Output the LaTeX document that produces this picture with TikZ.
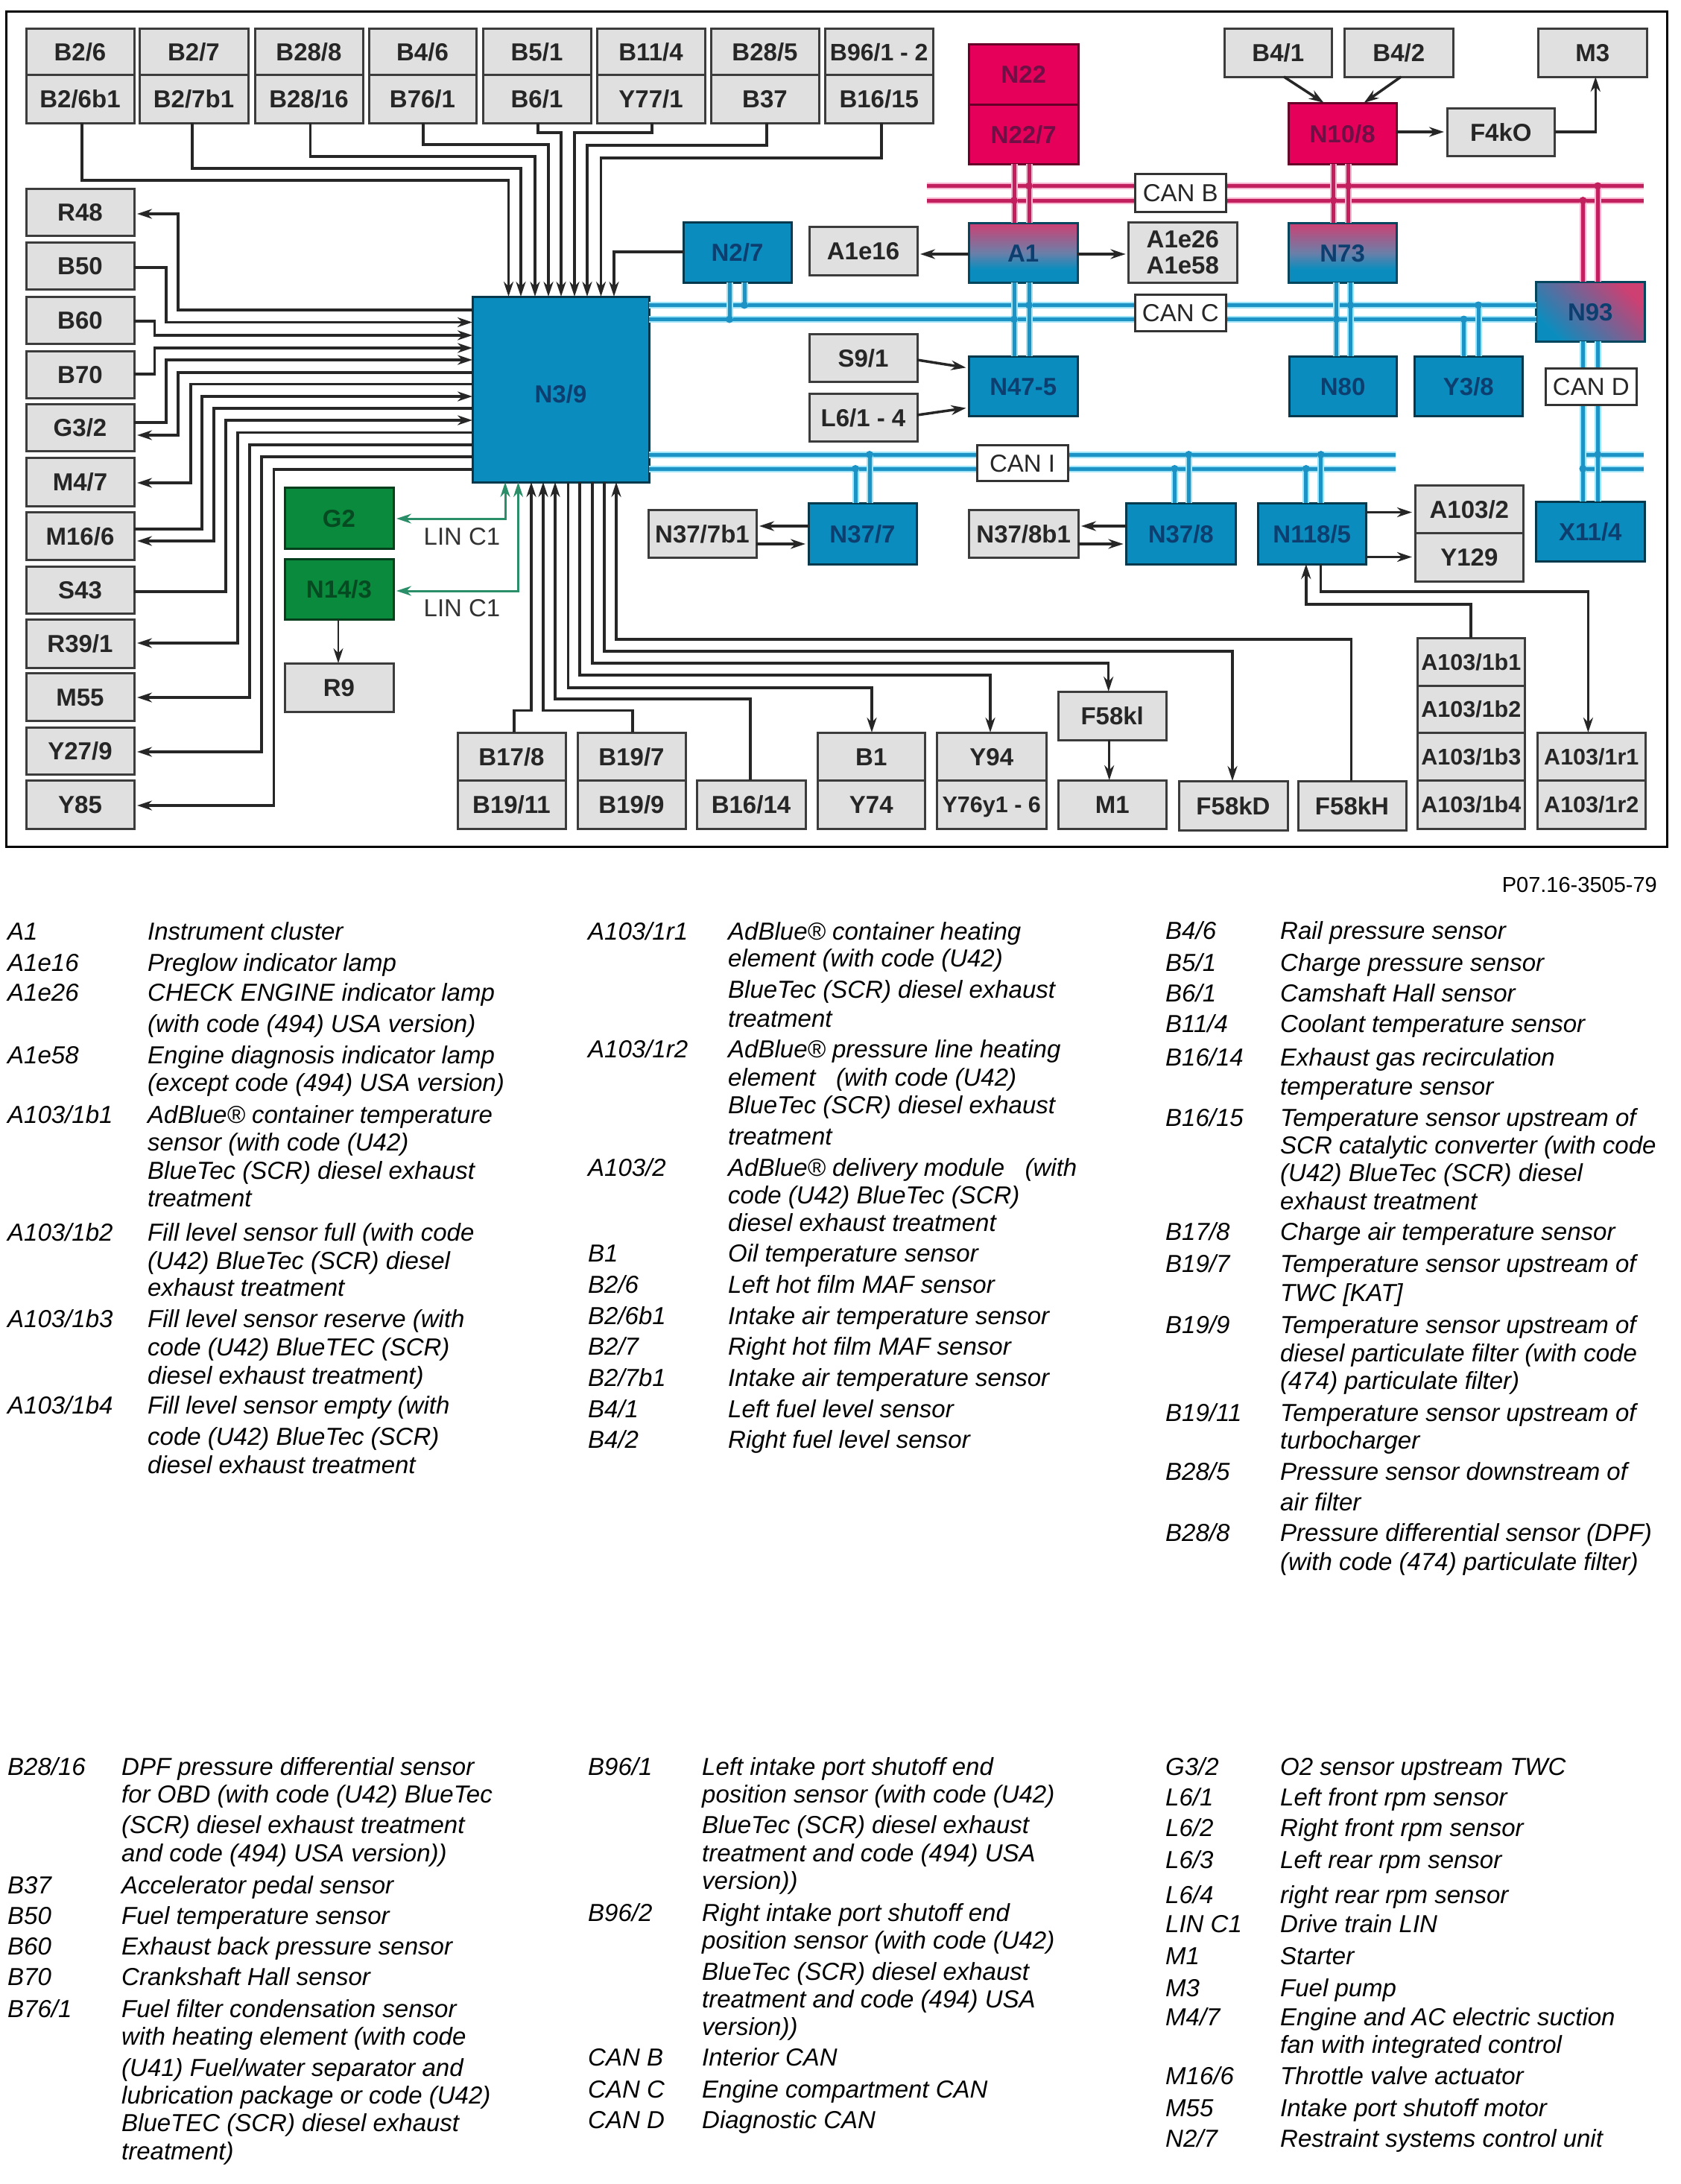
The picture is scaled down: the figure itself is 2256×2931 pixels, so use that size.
\documentclass[tikz,border=0pt]{standalone}
\usepackage{fontspec}
\setmainfont{Liberation Sans}
\usetikzlibrary{arrows.meta,calc}
\definecolor{gboxc}{HTML}{E0E0E0}
\definecolor{edgec}{HTML}{3C3C3C}
\definecolor{wirec}{HTML}{262626}
\definecolor{bluec}{HTML}{0A8DBE}
\definecolor{pinkc}{HTML}{E6005A}
\definecolor{mauvec}{HTML}{CE3F72}
\definecolor{midc}{HTML}{6C7FA8}
\definecolor{greenc}{HTML}{0A8A3C}
\definecolor{linc}{HTML}{2A8F68}
\definecolor{canbc}{HTML}{C21F5F}
\definecolor{canbh}{HTML}{F7B4CE}
\definecolor{cancc}{HTML}{1C93C4}
\definecolor{canch}{HTML}{9FE4F7}
\definecolor{navyt}{HTML}{0C3F70}
\definecolor{pinkt}{HTML}{6E0F45}
\definecolor{greent}{HTML}{064A22}
\pgfdeclareverticalshading{mixs}{100bp}{color(0bp)=(bluec); color(25bp)=(bluec); color(36bp)=(bluec); color(50bp)=(midc); color(75bp)=(mauvec); color(100bp)=(mauvec)}
\newcounter{lgc}
\newcommand{\bx}[7][gbox]{%
  \pgfmathsetmacro\bxcx{(#3+#5)/2}%
  \pgfmathsetmacro\bxcy{(#4+#6)/2}%
  \pgfmathsetmacro\bxw{#5-#3}%
  \pgfmathsetmacro\bxh{#6-#4}%
  \node[#1,minimum width=\bxw pt,minimum height=\bxh pt] (#2) at (\bxcx,\bxcy) {#7};}
\newcommand{\lgt}[3]{\stepcounter{lgc}\node[legend] (lg\thelgc) at (#1,#2) {#3};}
\tikzset{
  x=1pt,y=-1pt,
  basebox/.style={draw=edgec,line width=3pt,inner sep=0pt,outer sep=0pt,align=center,
    text height=24pt,text depth=0pt,
    font=\fontsize{33}{38}\selectfont\bfseries,text=black!85},
  natural/.style={text height=,text depth=},
  gbox/.style={basebox,fill=gboxc},
  gsmall/.style={gbox,text height=22pt,font=\fontsize{30.5}{36}\selectfont\bfseries},
  bluebox/.style={basebox,draw=black!60!bluec,fill=bluec,text=navyt},
  pinkbox/.style={basebox,draw=black!55!pinkc,fill=pinkc,text=pinkt},
  greenbox/.style={basebox,draw=black!55!greenc,fill=greenc,text=greent},
  mixbox/.style={basebox,draw=black!50!bluec,shade,shading=mixs,text=navyt},
  diagbox/.style={basebox,draw=black!50!bluec,top color=mauvec,bottom color=bluec,shading angle=-45,text=navyt},
  canbox/.style={basebox,fill=white,draw=black!80,font=\fontsize{33}{38}\selectfont},
  sig/.style={draw=wirec,line width=3.5pt},
  thin sig/.style={draw=wirec,line width=2.5pt},
  tip/.style={-{Stealth[length=20pt,width=13pt]}},
  lin/.style={draw=linc,line width=3pt},
  canb/.style={draw=canbc,line width=5pt,preaction={draw=canbh,line width=9pt}},
  canc/.style={draw=cancc,line width=5pt,preaction={draw=canch,line width=9pt}},
  legend/.style={anchor=base west,inner sep=0pt,font=\fontsize{33}{38}\selectfont\itshape,text=black},
  plain label/.style={inner sep=0pt,font=\fontsize{33}{38}\selectfont,text=black!80},
  short/.style={shorten >=4pt},
}
\begin{document}
\begin{tikzpicture}
\useasboundingbox (0,0) rectangle (2256,2931);
\fill[white] (0,0) rectangle (2256,2931);
\draw[black,line width=3pt] (8.5,15) rectangle (2237.5,1136);
\coordinate (cbl) at (1243.6,249.5);
\coordinate (cbr) at (2206,249.5);
\coordinate (cbl2) at (1243.6,269);
\coordinate (cbr2) at (2206,269);
\coordinate (cil) at (1873,610);
\coordinate (cil2) at (1873,629);
\coordinate (dl) at (2124.4,610);
\coordinate (dr) at (2206,610);
\coordinate (dl2) at (2124.4,629);
\coordinate (dr2) at (2206,629);
% top row
\bx{b26}{35}{38}{180}{100}{B2/6}
\bx{b26b1}{35}{100}{180}{165}{B2/6b1}
\bx{b27}{187}{38}{333}{100}{B2/7}
\bx{b27b1}{187}{100}{333}{165}{B2/7b1}
\bx{b288}{342}{38}{487}{100}{B28/8}
\bx{b2816}{342}{100}{487}{165}{B28/16}
\bx{b46}{495}{38}{639}{100}{B4/6}
\bx{b761}{495}{100}{639}{165}{B76/1}
\bx{b51}{648}{38}{793}{100}{B5/1}
\bx{b61}{648}{100}{793}{165}{B6/1}
\bx{b114}{801}{38}{946}{100}{B11/4}
\bx{y771}{801}{100}{946}{165}{Y77/1}
\bx{b285}{954}{38}{1099}{100}{B28/5}
\bx{b37}{954}{100}{1099}{165}{B37}
\bx[gbox,font=\fontsize{32}{36}\selectfont\bfseries]{b96}{1107}{38}{1252.5}{100}{B96/1 - 2}
\bx{b1615}{1107}{100}{1252.5}{165}{B16/15}
% left column
\bx{r48}{35}{253}{180}{316}{R48}
\bx{b50}{35}{325}{180}{388}{B50}
\bx{b60}{35}{398}{180}{461}{B60}
\bx{b70}{35}{471}{180}{534}{B70}
\bx{g32}{35}{542}{180}{605}{G3/2}
\bx{m47}{35}{614}{180}{679}{M4/7}
\bx{m166}{35}{687}{180}{751}{M16/6}
\bx{s43}{35}{760}{180}{823}{S43}
\bx{r391}{35}{831}{180}{896}{R39/1}
\bx{m55}{35}{903}{180}{967}{M55}
\bx{y279}{35}{976}{180}{1039}{Y27/9}
\bx{y85}{35}{1047}{180}{1112}{Y85}
% control units
\bx[bluebox,text height=37pt,text depth=2pt]{n39}{634}{398}{871}{647}{N3/9}
\bx[bluebox]{n27}{917}{298}{1062}{379}{N2/7}
\bx{a1e16}{1086}{304}{1231}{369}{A1e16}
\bx{s91}{1086}{448}{1231}{512}{S9/1}
\bx{l61}{1086}{528}{1231}{592}{L6/1 - 4}
\bx[pinkbox]{n22}{1300.4}{59}{1447}{140}{N22}
\bx[pinkbox]{n227}{1300.4}{140}{1447}{220}{N22/7}
\bx[mixbox]{a1}{1300.4}{299}{1446}{379}{A1}
\bx[gbox,natural]{a1e26}{1514.6}{298}{1660}{379}{A1e26\\[-3pt]A1e58}
\bx[mixbox]{n73}{1729}{299}{1874.3}{379}{N73}
\bx[pinkbox]{n108}{1729}{138}{1874.3}{220}{N10/8}
\bx{b41}{1643}{38}{1787.6}{103}{B4/1}
\bx{b42}{1804.6}{38}{1950}{103}{B4/2}
\bx{m3}{2064.6}{38}{2210}{103}{M3}
\bx{f4ko}{1942}{145}{2086.5}{209}{F4kO}
\bx[diagbox]{n93}{2061.6}{378}{2207}{458}{N93}
\bx[bluebox]{n475}{1300.4}{478}{1446}{558}{N47-5}
\bx[bluebox]{n80}{1730}{478}{1874.3}{558}{N80}
\bx[bluebox]{y38}{1898}{478}{2043.7}{558}{Y3/8}
\bx[bluebox]{x114}{2061.6}{673}{2207}{753}{X11/4}
\bx{n377b1}{870}{684}{1015}{748}{N37/7b1}
\bx[bluebox]{n377}{1085}{675}{1230}{757}{N37/7}
\bx{n378b1}{1300.4}{684}{1447}{748}{N37/8b1}
\bx[bluebox]{n378}{1511.6}{675}{1658}{757}{N37/8}
\bx[bluebox]{n1185}{1688}{675}{1833.5}{757}{N118/5}
\bx{a1032}{1899}{651}{2044.7}{715}{A103/2}
\bx{y129}{1899}{715}{2044.7}{780}{Y129}
\bx[gsmall]{a1b1}{1902}{856}{2046.7}{920}{A103/1b1}
\bx[gsmall]{a1b2}{1902}{920}{2046.7}{983}{A103/1b2}
\bx[gsmall]{a1b3}{1902}{983}{2046.7}{1047}{A103/1b3}
\bx[gsmall]{a1b4}{1902}{1047}{2046.7}{1112}{A103/1b4}
\bx[gsmall]{a1r1}{2063.6}{983}{2208}{1047}{A103/1r1}
\bx[gsmall]{a1r2}{2063.6}{1047}{2208}{1112}{A103/1r2}
\bx{f58kh}{1742}{1048}{1887}{1114}{F58kH}
\bx{f58kd}{1582}{1048}{1728}{1114}{F58kD}
\bx{m1}{1420}{1047}{1565.4}{1112}{M1}
\bx{f58kl}{1420}{928}{1565.4}{993}{F58kl}
\bx{y94}{1257.5}{983}{1404}{1047}{Y94}
\bx[gsmall]{y76}{1257.5}{1047}{1404}{1112}{Y76y1 - 6}
\bx{b1}{1097}{983}{1241.6}{1047}{B1}
\bx{y74}{1097}{1047}{1241.6}{1112}{Y74}
\bx{b1614}{935}{1047}{1081}{1112}{B16/14}
\bx{b197}{775}{983}{920}{1047}{B19/7}
\bx{b199}{775}{1047}{920}{1112}{B19/9}
\bx{b178}{614}{983}{759}{1047}{B17/8}
\bx{b1911}{614}{1047}{759}{1112}{B19/11}
\bx{r9}{382}{890}{528}{955}{R9}
\bx[greenbox]{g2}{382}{654}{528}{736}{G2}
\bx[greenbox]{n143}{382}{750}{528}{831}{N14/3}
% CAN B
\draw[canb] (cbl) -- (cbr);
\draw[canb] (cbl2) -- (cbr2);
\draw[canb] (1361,0 |- n227.south) -- (1361,0 |- a1.north);
\draw[canb] (1381,0 |- n227.south) -- (1381,0 |- a1.north);
\draw[canb] (1789.6,0 |- n108.south) -- (1789.6,0 |- n73.north);
\draw[canb] (1809.5,0 |- n108.south) -- (1809.5,0 |- n73.north);
\draw[canb] (2124.4,0 |- n93.north) -- (2124.4,269);
\draw[canb] (2144.3,0 |- n93.north) -- (2144.3,249.5);
\foreach \p in {(1381,249.5),(1361,269),(1809.5,249.5),(1789.6,269),(2144.3,249.5),(2124.4,269)} {\fill[canbc] \p circle (5);}
% CAN C
\draw[canc] (n39.east |- 0,409.5) -- (n93.west |- 0,409.5);
\draw[canc] (n39.east |- 0,428.5) -- (n93.west |- 0,428.5);
\draw[canc] (979,0 |- n27.south) -- (979,428.5);
\draw[canc] (999,0 |- n27.south) -- (999,409.5);
\draw[canc] (1361,0 |- a1.south) -- (1361,0 |- n475.north);
\draw[canc] (1381,0 |- a1.south) -- (1381,0 |- n475.north);
\draw[canc] (1793.6,0 |- n73.south) -- (1793.6,0 |- n80.north);
\draw[canc] (1812.5,0 |- n73.south) -- (1812.5,0 |- n80.north);
\draw[canc] (1964.5,0 |- y38.north) -- (1964.5,428.5);
\draw[canc] (1984,0 |- y38.north) -- (1984,409.5);
\foreach \p in {(999,409.5),(979,428.5),(1381,409.5),(1361,428.5),(1812.5,409.5),(1793.6,428.5),(1984,409.5),(1964.5,428.5)} {\fill[cancc] \p circle (5);}
% CAN D and CAN I
\draw[canc] (dl) -- (dr);
\draw[canc] (dl2) -- (dr2);
\draw[canc] (2124.4,0 |- n93.south) -- (2124.4,0 |- x114.north);
\draw[canc] (2144.3,0 |- n93.south) -- (2144.3,0 |- x114.north);
\draw[canc] (n39.east |- 0,610) -- (cil);
\draw[canc] (n39.east |- 0,629) -- (cil2);
\draw[canc] (1148,0 |- n377.north) -- (1148,629);
\draw[canc] (1167,0 |- n377.north) -- (1167,610);
\draw[canc] (1576.4,0 |- n378.north) -- (1576.4,629);
\draw[canc] (1595.3,0 |- n378.north) -- (1595.3,610);
\draw[canc] (1752.8,0 |- n1185.north) -- (1752.8,629);
\draw[canc] (1772.7,0 |- n1185.north) -- (1772.7,610);
\foreach \p in {(1167,610),(1148,629),(1595.3,610),(1576.4,629),(1772.7,610),(1752.8,629),(2144.3,610),(2124.4,629)} {\fill[cancc] \p circle (5);}
% CAN labels
\bx[canbox]{canB}{1523.6}{233}{1645}{284}{CAN B}
\bx[canbox]{canC}{1523.6}{395}{1645}{444}{CAN C}
\bx[canbox]{canD}{2074.6}{494}{2196}{543}{CAN D}
\bx[canbox]{canI}{1311}{597}{1433}{645}{CAN I}
% top signals into N3/9
\draw[sig,tip] (110,0 |- b26b1.south) |- (682.5,242) -- (682.5,0 |- n39.north);
\draw[sig,tip] (258,0 |- b27b1.south) |- (699,226) -- (699,0 |- n39.north);
\draw[sig,tip] (416.5,0 |- b2816.south) |- (718,210) -- (718,0 |- n39.north);
\draw[sig,tip] (568,0 |- b761.south) |- (736,194) -- (736,0 |- n39.north);
\draw[sig,tip] (722,0 |- b61.south) |- (753,178) -- (753,0 |- n39.north);
\draw[sig,tip] (875,0 |- y771.south) |- (771,178) -- (771,0 |- n39.north);
\draw[sig,tip] (1029,0 |- b37.south) |- (788,195) -- (788,0 |- n39.north);
\draw[sig,tip] (1183,0 |- b1615.south) |- (806.5,212) -- (806.5,0 |- n39.north);
\draw[sig,tip] (n27.west |- 0,338) -| (824,0 |- n39.north);
% left signals
\draw[sig,tip,short] (n39.west |- 0,416) -| (239,287) -- (r48.east |- 0,287);
\draw[sig,tip] (b50.east |- 0,359) -| (223,432.5) -- (n39.west |- 0,432.5);
\draw[sig,tip] (b60.east |- 0,431) -| (207.5,450) -- (n39.west |- 0,450);
\draw[sig,tip] (b70.east |- 0,502) -| (207.5,467) -- (n39.west |- 0,467);
\draw[sig,tip] (g32.east |- 0,567) -| (223,483) -- (n39.west |- 0,483);
\draw[sig,tip,short] (n39.west |- 0,500) -| (239,584) -- (g32.east |- 0,584);
\draw[sig,tip,short] (n39.west |- 0,515.5) -| (256,648) -- (m47.east |- 0,648);
\draw[sig,tip] (m166.east |- 0,710) -| (271,532) -- (n39.west |- 0,532);
\draw[sig,tip,short] (n39.west |- 0,548) -| (287,726) -- (m166.east |- 0,726);
\draw[sig,tip] (s43.east |- 0,794) -| (303,564) -- (n39.west |- 0,564);
\draw[sig,tip,short] (n39.west |- 0,580.5) -| (319,863) -- (r391.east |- 0,863);
\draw[sig,tip,short] (n39.west |- 0,597) -| (335,936) -- (m55.east |- 0,936);
\draw[sig,tip,short] (n39.west |- 0,613) -| (351,1009) -- (y279.east |- 0,1009);
\draw[sig,tip,short] (n39.west |- 0,630) -| (367.5,1081) -- (y85.east |- 0,1081);
% LIN
\draw[lin,{Stealth[length=20pt,width=13pt]}-{Stealth[length=20pt,width=13pt]},shorten >=4pt] (678,0 |- n39.south) |- (g2.east |- 0,696);
\draw[lin,{Stealth[length=20pt,width=13pt]}-{Stealth[length=20pt,width=13pt]},shorten >=4pt] (695.5,0 |- n39.south) |- (n143.east |- 0,793);
\node[plain label] (linA) at (620,720) {LIN C1};
\node[plain label] (linB) at (620,816) {LIN C1};
% bottom signals
\draw[sig,tip] (690,0 |- b178.north) |- (713,953.5) -- (713,0 |- n39.south);
\draw[sig,tip] (849,0 |- b197.north) |- (729,953.5) -- (729,0 |- n39.south);
\draw[sig,tip] (1007,0 |- b1614.north) |- (745,938) -- (745,0 |- n39.south);
\draw[sig,tip] (762.5,0 |- n39.south) |- (1170,923) -- (1170,0 |- b1.north);
\draw[sig,tip] (778,0 |- n39.south) |- (1329,906) -- (1329,0 |- y94.north);
\draw[sig,tip] (795,0 |- n39.south) |- (1487.7,890) -- (1487.7,0 |- f58kl.north);
\draw[sig,tip] (811,0 |- n39.south) |- (1654,874) -- (1654,0 |- f58kd.north);
\draw[sig,tip] (1813.5,0 |- f58kh.north) |- (827,858) -- (827,0 |- n39.south);
\draw[thin sig,tip] (1488.7,0 |- f58kl.south) -- (1488.7,0 |- m1.north);
\draw[thin sig,tip] (454,0 |- n143.south) -- (454,0 |- r9.north);
% side units
\draw[sig,tip,short] (n377.west |- 0,706) -- (n377b1.east |- 0,706);
\draw[sig,tip,short] (n377b1.east |- 0,730) -- (n377.west |- 0,730);
\draw[sig,tip,short] (n378.west |- 0,706) -- (n378b1.east |- 0,706);
\draw[sig,tip,short] (n378b1.east |- 0,730) -- (n378.west |- 0,730);
\draw[sig,tip,short] (n1185.east |- 0,687.5) -- (a1032.west |- 0,687.5);
\draw[sig,tip,short] (n1185.east |- 0,747.5) -- (y129.west |- 0,747.5);
\draw[sig,tip] (1974,0 |- a1b1.north) |- (1752.8,811) -- (1752.8,0 |- n1185.south);
\draw[sig,tip] (1772.7,0 |- n1185.south) |- (2131.4,794) -- (2131.4,0 |- a1r1.north);
\draw[sig,tip,short] (s91.east |- 0,483) -- (n475.west |- 0,494);
\draw[sig,tip,short] (l61.east |- 0,557) -- (n475.west |- 0,547);
\draw[sig,tip,short] (a1.west |- 0,341) -- (a1e16.east |- 0,341);
\draw[sig,tip,short] (a1.east |- 0,341) -- (a1e26.west |- 0,341);
\draw[sig,tip,short] (n108.east |- 0,177) -- (f4ko.west |- 0,177);
\draw[sig,tip] (f4ko.east |- 0,177) -| (2141.3,0 |- m3.south);
\draw[sig,tip] (1723,0 |- b41.south) -- (1776.7,0 |- n108.north);
\draw[sig,tip] (1880.3,0 |- b42.south) -- (1830.5,0 |- n108.north);
% reference number
\node[anchor=base east,inner sep=0pt,font=\fontsize{29}{34}\selectfont] (ref) at (2224,1197) {P07.16-3505-79};
% legend col 1
\lgt{10}{1261}{A1}\lgt{198}{1261}{Instrument cluster}
\lgt{10}{1303}{A1e16}\lgt{198}{1303}{Preglow indicator lamp}
\lgt{10}{1343.5}{A1e26}\lgt{198}{1343.5}{CHECK ENGINE indicator lamp}
\lgt{198}{1385}{(with code (494) USA version)}
\lgt{10}{1427}{A1e58}\lgt{198}{1427}{Engine diagnosis indicator lamp}
\lgt{198}{1464}{(except code (494) USA version)}
\lgt{10}{1507}{A103/1b1}\lgt{198}{1507}{AdBlue® container temperature}
\lgt{198}{1544}{sensor (with code (U42)}
\lgt{198}{1582}{BlueTec (SCR) diesel exhaust}
\lgt{198}{1619}{treatment}
\lgt{10}{1665}{A103/1b2}\lgt{198}{1665}{Fill level sensor full (with code}
\lgt{198}{1703}{(U42) BlueTec (SCR) diesel}
\lgt{198}{1739}{exhaust treatment}
\lgt{10}{1781}{A103/1b3}\lgt{198}{1781}{Fill level sensor reserve (with}
\lgt{198}{1819}{code (U42) BlueTEC (SCR)}
\lgt{198}{1857}{diesel exhaust treatment)}
\lgt{10}{1897}{A103/1b4}\lgt{198}{1897}{Fill level sensor empty (with}
\lgt{198}{1939}{code (U42) BlueTec (SCR)}
\lgt{198}{1977}{diesel exhaust treatment}
% legend col 2
\lgt{789}{1261}{A103/1r1}\lgt{977}{1261}{AdBlue® container heating}
\lgt{977}{1297.5}{element (with code (U42)}
\lgt{977}{1339}{BlueTec (SCR) diesel exhaust}
\lgt{977}{1378}{treatment}
\lgt{789}{1419}{A103/1r2}\lgt{977}{1419}{AdBlue® pressure line heating}
\lgt{977}{1457}{element \ \ (with code (U42)}
\lgt{977}{1494}{BlueTec (SCR) diesel exhaust}
\lgt{977}{1536}{treatment}
\lgt{789}{1578}{A103/2}\lgt{977}{1578}{AdBlue® delivery module \ \ (with}
\lgt{977}{1615}{code (U42) BlueTec (SCR)}
\lgt{977}{1652}{diesel exhaust treatment}
\lgt{789}{1693}{B1}\lgt{977}{1693}{Oil temperature sensor}
\lgt{789}{1735}{B2/6}\lgt{977}{1735}{Left hot film MAF sensor}
\lgt{789}{1777}{B2/6b1}\lgt{977}{1777}{Intake air temperature sensor}
\lgt{789}{1818}{B2/7}\lgt{977}{1818}{Right hot film MAF sensor}
\lgt{789}{1860}{B2/7b1}\lgt{977}{1860}{Intake air temperature sensor}
\lgt{789}{1902}{B4/1}\lgt{977}{1902}{Left fuel level sensor}
\lgt{789}{1943}{B4/2}\lgt{977}{1943}{Right fuel level sensor}
% legend col 3
\lgt{1564}{1260.5}{B4/6}\lgt{1718}{1260.5}{Rail pressure sensor}
\lgt{1564}{1303.5}{B5/1}\lgt{1718}{1303.5}{Charge pressure sensor}
\lgt{1564}{1344.6}{B6/1}\lgt{1718}{1344.6}{Camshaft Hall sensor}
\lgt{1564}{1385.7}{B11/4}\lgt{1718}{1385.7}{Coolant temperature sensor}
\lgt{1564}{1430.6}{B16/14}\lgt{1718}{1430.6}{Exhaust gas recirculation}
\lgt{1718}{1469.8}{temperature sensor}
\lgt{1564}{1511}{B16/15}\lgt{1718}{1511}{Temperature sensor upstream of}
\lgt{1718}{1548}{SCR catalytic converter (with code}
\lgt{1718}{1585.7}{(U42) BlueTec (SCR) diesel}
\lgt{1718}{1623}{exhaust treatment}
\lgt{1564}{1664}{B17/8}\lgt{1718}{1664}{Charge air temperature sensor}
\lgt{1564}{1707}{B19/7}\lgt{1718}{1707}{Temperature sensor upstream of}
\lgt{1718}{1746}{TWC [KAT]}
\lgt{1564}{1789}{B19/9}\lgt{1718}{1789}{Temperature sensor upstream of}
\lgt{1718}{1827}{diesel particulate filter (with code}
\lgt{1718}{1864}{(474) particulate filter)}
\lgt{1564}{1907}{B19/11}\lgt{1718}{1907}{Temperature sensor upstream of}
\lgt{1718}{1944.6}{turbocharger}
\lgt{1564}{1986}{B28/5}\lgt{1718}{1986}{Pressure sensor downstream of}
\lgt{1718}{2027}{air filter}
\lgt{1564}{2068}{B28/8}\lgt{1718}{2068}{Pressure differential sensor (DPF)}
\lgt{1718}{2107}{(with code (474) particulate filter)}
% lower legend col 1
\lgt{10}{2382}{B28/16}\lgt{163}{2382}{DPF pressure differential sensor}
\lgt{163}{2419}{for OBD (with code (U42) BlueTec}
\lgt{163}{2460}{(SCR) diesel exhaust treatment}
\lgt{163}{2498}{and code (494) USA version))}
\lgt{10}{2541}{B37}\lgt{163}{2541}{Accelerator pedal sensor}
\lgt{10}{2582}{B50}\lgt{163}{2582}{Fuel temperature sensor}
\lgt{10}{2623}{B60}\lgt{163}{2623}{Exhaust back pressure sensor}
\lgt{10}{2664}{B70}\lgt{163}{2664}{Crankshaft Hall sensor}
\lgt{10}{2707}{B76/1}\lgt{163}{2707}{Fuel filter condensation sensor}
\lgt{163}{2744}{with heating element (with code}
\lgt{163}{2786}{(U41) Fuel/water separator and}
\lgt{163}{2823}{lubrication package or code (U42)}
\lgt{163}{2860}{BlueTEC (SCR) diesel exhaust}
\lgt{163}{2898}{treatment)}
% lower legend col 2
\lgt{789}{2382}{B96/1}\lgt{942}{2382}{Left intake port shutoff end}
\lgt{942}{2419}{position sensor (with code (U42)}
\lgt{942}{2460}{BlueTec (SCR) diesel exhaust}
\lgt{942}{2498}{treatment and code (494) USA}
\lgt{942}{2535}{version))}
\lgt{789}{2578}{B96/2}\lgt{942}{2578}{Right intake port shutoff end}
\lgt{942}{2615}{position sensor (with code (U42)}
\lgt{942}{2657}{BlueTec (SCR) diesel exhaust}
\lgt{942}{2694}{treatment and code (494) USA}
\lgt{942}{2731}{version))}
\lgt{789}{2772}{CAN B}\lgt{942}{2772}{Interior CAN}
\lgt{789}{2815}{CAN C}\lgt{942}{2815}{Engine compartment CAN}
\lgt{789}{2856}{CAN D}\lgt{942}{2856}{Diagnostic CAN}
% lower legend col 3
\lgt{1564}{2382}{G3/2}\lgt{1718}{2382}{O2 sensor upstream TWC}
\lgt{1564}{2423}{L6/1}\lgt{1718}{2423}{Left front rpm sensor}
\lgt{1564}{2464}{L6/2}\lgt{1718}{2464}{Right front rpm sensor}
\lgt{1564}{2507}{L6/3}\lgt{1718}{2507}{Left rear rpm sensor}
\lgt{1564}{2554}{L6/4}\lgt{1718}{2554}{right rear rpm sensor}
\lgt{1564}{2593}{LIN C1}\lgt{1718}{2593}{Drive train LIN}
\lgt{1564}{2636}{M1}\lgt{1718}{2636}{Starter}
\lgt{1564}{2679}{M3}\lgt{1718}{2679}{Fuel pump}
\lgt{1564}{2718}{M4/7}\lgt{1718}{2718}{Engine and AC electric suction}
\lgt{1718}{2755}{fan with integrated control}
\lgt{1564}{2797}{M16/6}\lgt{1718}{2797}{Throttle valve actuator}
\lgt{1564}{2840}{M55}\lgt{1718}{2840}{Intake port shutoff motor}
\lgt{1564}{2881}{N2/7}\lgt{1718}{2881}{Restraint systems control unit}
\end{tikzpicture}
\end{document}
